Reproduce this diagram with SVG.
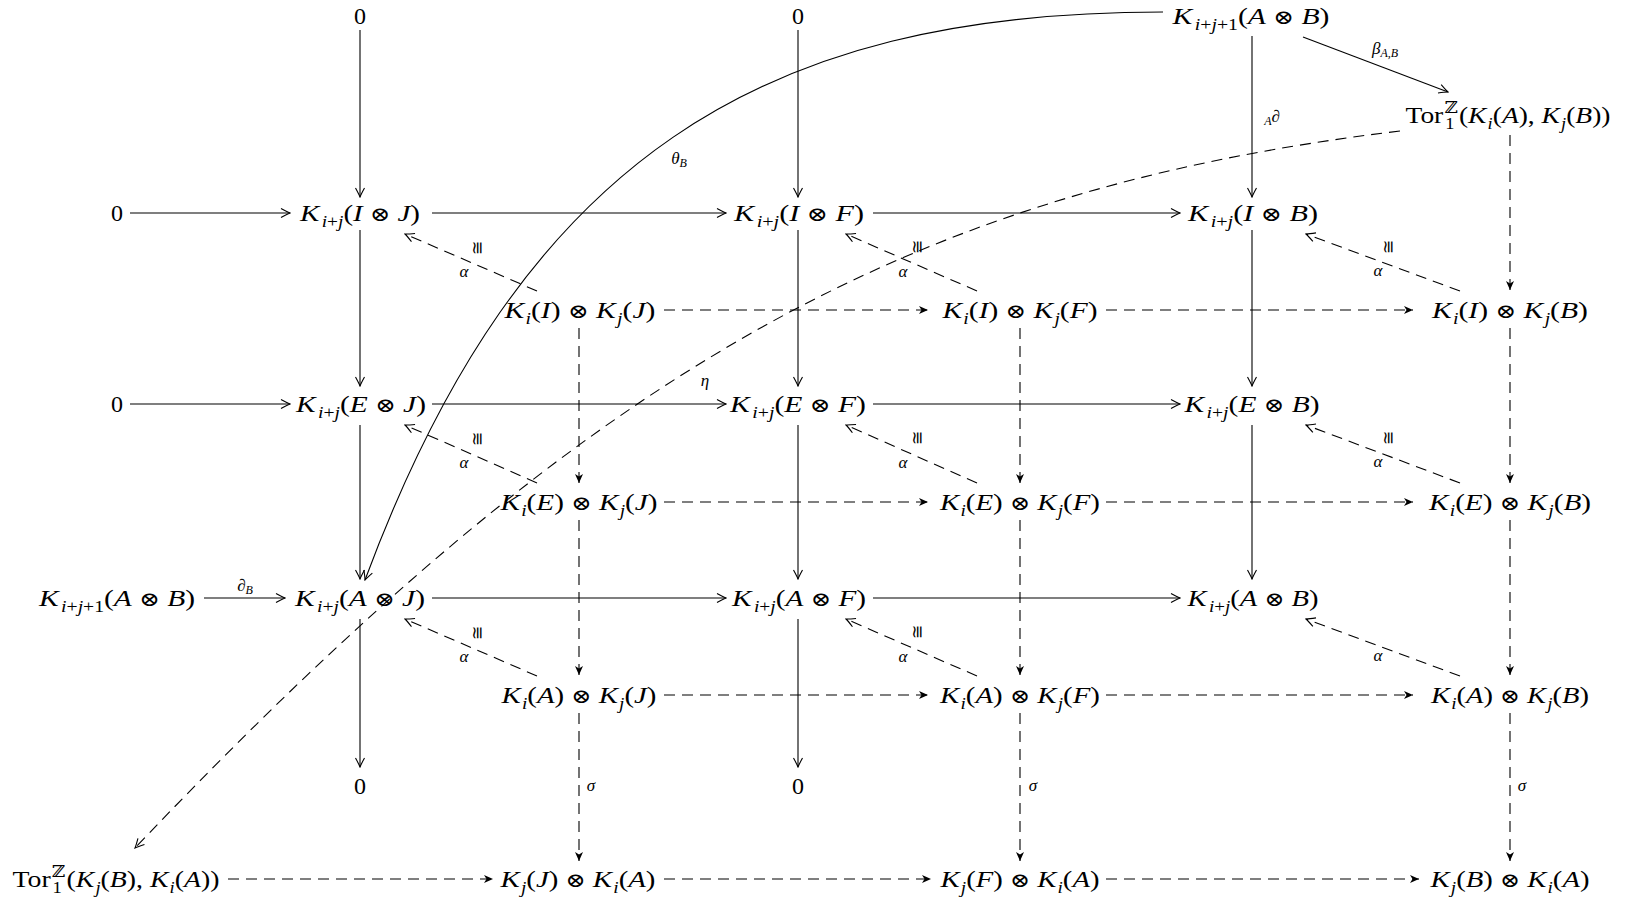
<svg xmlns="http://www.w3.org/2000/svg" width="1626" height="901" viewBox="0 0 1626 901">
<style>
.t{font-family:"Liberation Serif","DejaVu Serif",serif;font-size:24px;text-anchor:middle;fill:#000}
.i{font-style:italic}
.s{font-size:16px}
.o{font-family:"DejaVu Serif",serif;font-size:20px}
.l{font-family:"Liberation Serif","DejaVu Serif",serif;font-size:17px;font-style:italic;text-anchor:middle;fill:#000}
.ls{font-size:12px}
.ar{fill:none;stroke:#000;stroke-width:1.1;marker-end:url(#to)}
.da{fill:none;stroke:#000;stroke-width:1.1;stroke-dasharray:11 7;marker-end:url(#st)}
.dt{fill:none;stroke:#000;stroke-width:1.1;stroke-dasharray:11 7;marker-end:url(#to)}
</style>
<defs>
<marker id="to" markerUnits="userSpaceOnUse" viewBox="-11 -6 12 12" refX="0" refY="0" markerWidth="12" markerHeight="12" orient="auto"><path d="M-9,-4.5 Q-3,-1.2 0,0 Q-3,1.2 -9,4.5" fill="none" stroke="#000" stroke-width="1.1" stroke-dasharray="none"/></marker>
<marker id="st" markerUnits="userSpaceOnUse" viewBox="-11 -6 12 12" refX="0" refY="0" markerWidth="12" markerHeight="12" orient="auto"><path d="M0,0 L-9,-4 L-6.5,0 L-9,4 Z" fill="#000" stroke="none"/></marker>
</defs>

<g id="connectors">
<path class="ar" d="M130,213 H290"/>
<path class="ar" d="M432,213 H726"/>
<path class="ar" d="M873,213 H1180"/>
<path class="ar" d="M130,404 H290"/>
<path class="ar" d="M432,404 H726"/>
<path class="ar" d="M873,404 H1180"/>
<path class="ar" d="M204,598 H285"/>
<path class="ar" d="M432,598 H726"/>
<path class="ar" d="M873,598 H1180"/>
<path class="ar" d="M360,30 V197"/>
<path class="ar" d="M360,230 V386"/>
<path class="ar" d="M360,425 V579"/>
<path class="ar" d="M360,619 V767"/>
<path class="ar" d="M798,30 V197"/>
<path class="ar" d="M798,230 V386"/>
<path class="ar" d="M798,425 V579"/>
<path class="ar" d="M798,619 V767"/>
<path class="ar" d="M1252,36 V197"/>
<path class="ar" d="M1252,230 V386"/>
<path class="ar" d="M1252,425 V579"/>
<path class="ar" d="M1303,37 L1448,92"/>
<path class="ar" d="M1163,12 C763,12 522,157 365,580"/>
<path class="dt" d="M1400,131 C900,191 585,375 135,848"/>
<path class="da" d="M579,328 V483"/>
<path class="da" d="M579,520 V675"/>
<path class="da" d="M579,713 V861"/>
<path class="da" d="M1020,328 V483"/>
<path class="da" d="M1020,520 V675"/>
<path class="da" d="M1020,713 V861"/>
<path class="da" d="M1510,135 V290"/>
<path class="da" d="M1510,328 V483"/>
<path class="da" d="M1510,520 V675"/>
<path class="da" d="M1510,713 V861"/>
<path class="da" d="M664,310 H928"/>
<path class="da" d="M1106,310 H1413"/>
<path class="da" d="M664,502 H928"/>
<path class="da" d="M1106,502 H1413"/>
<path class="da" d="M664,695 H928"/>
<path class="da" d="M1106,695 H1413"/>
<path class="da" d="M228,879 H493"/>
<path class="da" d="M664,879 H931"/>
<path class="da" d="M1106,879 H1419"/>
<path class="dt" d="M537,291 L405,234"/>
<path class="dt" d="M537,483 L405,425"/>
<path class="dt" d="M537,676 L405,619"/>
<path class="dt" d="M977,291 L846,234"/>
<path class="dt" d="M977,483 L846,425"/>
<path class="dt" d="M977,676 L846,619"/>
<path class="dt" d="M1460,291 L1306,234"/>
<path class="dt" d="M1460,483 L1306,425"/>
<path class="dt" d="M1460,676 L1306,619"/>
<text class="l" x="1385" y="54">β<tspan class="ls" dy="3">A,B</tspan></text>
<text class="l" x="1272" y="122"><tspan class="ls" dy="3">A</tspan><tspan dy="-3">∂</tspan></text>
<text class="l" x="679" y="164">θ<tspan class="ls" dy="3">B</tspan></text>
<text class="l" x="705" y="386">η</text>
<text class="l" x="245" y="591">∂<tspan class="ls" dy="3">B</tspan></text>
<text class="l" x="591" y="791">σ</text>
<text class="l" x="1033" y="791">σ</text>
<text class="l" x="1522" y="791">σ</text>
<text class="l" x="464" y="277">α</text>
<text class="l" x="464" y="468">α</text>
<text class="l" x="464" y="662">α</text>
<text class="l" x="903" y="277">α</text>
<text class="l" x="903" y="468">α</text>
<text class="l" x="903" y="662">α</text>
<text class="l" x="1378" y="276">α</text>
<text class="l" x="1378" y="467">α</text>
<text class="l" x="1378" y="661">α</text>
<text class="l" style="font-style:normal" transform="translate(478,248) rotate(-90)" y="5">≅</text>
<text class="l" style="font-style:normal" transform="translate(478,439) rotate(-90)" y="5">≅</text>
<text class="l" style="font-style:normal" transform="translate(478,633) rotate(-90)" y="5">≅</text>
<text class="l" style="font-style:normal" transform="translate(918,247) rotate(-90)" y="5">≅</text>
<text class="l" style="font-style:normal" transform="translate(918,438) rotate(-90)" y="5">≅</text>
<text class="l" style="font-style:normal" transform="translate(918,632) rotate(-90)" y="5">≅</text>
<text class="l" style="font-style:normal" transform="translate(1389,247) rotate(-90)" y="5">≅</text>
<text class="l" style="font-style:normal" transform="translate(1389,438) rotate(-90)" y="5">≅</text>
</g>

<g id="n-zero-top1"><text class="t" x="360" y="24">0</text></g>
<g id="n-zero-top2"><text class="t" x="798" y="24">0</text></g>
<g id="n-KAB-top"><text class="t" x="1251" y="24" textLength="157" lengthAdjust="spacingAndGlyphs"><tspan class="i">K</tspan><tspan class="s" dx="2" dy="6"><tspan class="i">i</tspan>+<tspan class="i">j</tspan>+1</tspan><tspan dy="-6">(<tspan class="i">A</tspan> <tspan class="o">⊗</tspan> <tspan class="i">B</tspan>)</tspan></text></g>
<g id="n-Tor-top"><text class="t" x="1508" y="123" textLength="205" lengthAdjust="spacingAndGlyphs">Tor<tspan class="s" dx="1" dy="-10">ℤ</tspan><tspan class="s" dx="-11" dy="16">1</tspan><tspan dx="4" dy="-6">(<tspan class="i">K</tspan><tspan class="s i" dx="1" dy="6">i</tspan><tspan dy="-6">(<tspan class="i">A</tspan>), <tspan class="i">K</tspan></tspan><tspan class="s i" dx="1" dy="6">j</tspan><tspan dy="-6">(<tspan class="i">B</tspan>))</tspan></tspan></text></g>

<g id="n-zero-I"><text class="t" x="117" y="221">0</text></g>
<g id="n-KIJ"><text class="t" x="360" y="221" textLength="120" lengthAdjust="spacingAndGlyphs"><tspan class="i">K</tspan><tspan class="s" dx="2" dy="6"><tspan class="i">i</tspan>+<tspan class="i">j</tspan></tspan><tspan dy="-6">(<tspan class="i">I</tspan> <tspan class="o">⊗</tspan> <tspan class="i">J</tspan>)</tspan></text></g>
<g id="n-KIF"><text class="t" x="799" y="221" textLength="130" lengthAdjust="spacingAndGlyphs"><tspan class="i">K</tspan><tspan class="s" dx="2" dy="6"><tspan class="i">i</tspan>+<tspan class="i">j</tspan></tspan><tspan dy="-6">(<tspan class="i">I</tspan> <tspan class="o">⊗</tspan> <tspan class="i">F</tspan>)</tspan></text></g>
<g id="n-KIB"><text class="t" x="1253" y="221" textLength="130" lengthAdjust="spacingAndGlyphs"><tspan class="i">K</tspan><tspan class="s" dx="2" dy="6"><tspan class="i">i</tspan>+<tspan class="i">j</tspan></tspan><tspan dy="-6">(<tspan class="i">I</tspan> <tspan class="o">⊗</tspan> <tspan class="i">B</tspan>)</tspan></text></g>

<g id="n-KiI-KjJ"><text class="t" x="580" y="318" textLength="151" lengthAdjust="spacingAndGlyphs"><tspan class="i">K</tspan><tspan class="s i" dx="1" dy="6">i</tspan><tspan dy="-6">(<tspan class="i">I</tspan>) <tspan class="o">⊗</tspan> <tspan class="i">K</tspan></tspan><tspan class="s i" dx="1" dy="6">j</tspan><tspan dy="-6">(<tspan class="i">J</tspan>)</tspan></text></g>
<g id="n-KiI-KjF"><text class="t" x="1020" y="318" textLength="155" lengthAdjust="spacingAndGlyphs"><tspan class="i">K</tspan><tspan class="s i" dx="1" dy="6">i</tspan><tspan dy="-6">(<tspan class="i">I</tspan>) <tspan class="o">⊗</tspan> <tspan class="i">K</tspan></tspan><tspan class="s i" dx="1" dy="6">j</tspan><tspan dy="-6">(<tspan class="i">F</tspan>)</tspan></text></g>
<g id="n-KiI-KjB"><text class="t" x="1510" y="318" textLength="156" lengthAdjust="spacingAndGlyphs"><tspan class="i">K</tspan><tspan class="s i" dx="1" dy="6">i</tspan><tspan dy="-6">(<tspan class="i">I</tspan>) <tspan class="o">⊗</tspan> <tspan class="i">K</tspan></tspan><tspan class="s i" dx="1" dy="6">j</tspan><tspan dy="-6">(<tspan class="i">B</tspan>)</tspan></text></g>

<g id="n-zero-E"><text class="t" x="117" y="412">0</text></g>
<g id="n-KEJ"><text class="t" x="361" y="412" textLength="130" lengthAdjust="spacingAndGlyphs"><tspan class="i">K</tspan><tspan class="s" dx="2" dy="6"><tspan class="i">i</tspan>+<tspan class="i">j</tspan></tspan><tspan dy="-6">(<tspan class="i">E</tspan> <tspan class="o">⊗</tspan> <tspan class="i">J</tspan>)</tspan></text></g>
<g id="n-KEF"><text class="t" x="798" y="412" textLength="136" lengthAdjust="spacingAndGlyphs"><tspan class="i">K</tspan><tspan class="s" dx="2" dy="6"><tspan class="i">i</tspan>+<tspan class="i">j</tspan></tspan><tspan dy="-6">(<tspan class="i">E</tspan> <tspan class="o">⊗</tspan> <tspan class="i">F</tspan>)</tspan></text></g>
<g id="n-KEB"><text class="t" x="1252" y="412" textLength="135" lengthAdjust="spacingAndGlyphs"><tspan class="i">K</tspan><tspan class="s" dx="2" dy="6"><tspan class="i">i</tspan>+<tspan class="i">j</tspan></tspan><tspan dy="-6">(<tspan class="i">E</tspan> <tspan class="o">⊗</tspan> <tspan class="i">B</tspan>)</tspan></text></g>

<g id="n-KiE-KjJ"><text class="t" x="579" y="510" textLength="157" lengthAdjust="spacingAndGlyphs"><tspan class="i">K</tspan><tspan class="s i" dx="1" dy="6">i</tspan><tspan dy="-6">(<tspan class="i">E</tspan>) <tspan class="o">⊗</tspan> <tspan class="i">K</tspan></tspan><tspan class="s i" dx="1" dy="6">j</tspan><tspan dy="-6">(<tspan class="i">J</tspan>)</tspan></text></g>
<g id="n-KiE-KjF"><text class="t" x="1020" y="510" textLength="160" lengthAdjust="spacingAndGlyphs"><tspan class="i">K</tspan><tspan class="s i" dx="1" dy="6">i</tspan><tspan dy="-6">(<tspan class="i">E</tspan>) <tspan class="o">⊗</tspan> <tspan class="i">K</tspan></tspan><tspan class="s i" dx="1" dy="6">j</tspan><tspan dy="-6">(<tspan class="i">F</tspan>)</tspan></text></g>
<g id="n-KiE-KjB"><text class="t" x="1510" y="510" textLength="162" lengthAdjust="spacingAndGlyphs"><tspan class="i">K</tspan><tspan class="s i" dx="1" dy="6">i</tspan><tspan dy="-6">(<tspan class="i">E</tspan>) <tspan class="o">⊗</tspan> <tspan class="i">K</tspan></tspan><tspan class="s i" dx="1" dy="6">j</tspan><tspan dy="-6">(<tspan class="i">B</tspan>)</tspan></text></g>

<g id="n-KAB-left"><text class="t" x="117" y="606" textLength="156" lengthAdjust="spacingAndGlyphs"><tspan class="i">K</tspan><tspan class="s" dx="2" dy="6"><tspan class="i">i</tspan>+<tspan class="i">j</tspan>+1</tspan><tspan dy="-6">(<tspan class="i">A</tspan> <tspan class="o">⊗</tspan> <tspan class="i">B</tspan>)</tspan></text></g>
<g id="n-KAJ"><text class="t" x="360" y="606" textLength="130" lengthAdjust="spacingAndGlyphs"><tspan class="i">K</tspan><tspan class="s" dx="2" dy="6"><tspan class="i">i</tspan>+<tspan class="i">j</tspan></tspan><tspan dy="-6">(<tspan class="i">A</tspan> <tspan class="o">⊗</tspan> <tspan class="i">J</tspan>)</tspan></text></g>
<g id="n-KAF"><text class="t" x="799" y="606" textLength="134" lengthAdjust="spacingAndGlyphs"><tspan class="i">K</tspan><tspan class="s" dx="2" dy="6"><tspan class="i">i</tspan>+<tspan class="i">j</tspan></tspan><tspan dy="-6">(<tspan class="i">A</tspan> <tspan class="o">⊗</tspan> <tspan class="i">F</tspan>)</tspan></text></g>
<g id="n-KAB"><text class="t" x="1253" y="606" textLength="131" lengthAdjust="spacingAndGlyphs"><tspan class="i">K</tspan><tspan class="s" dx="2" dy="6"><tspan class="i">i</tspan>+<tspan class="i">j</tspan></tspan><tspan dy="-6">(<tspan class="i">A</tspan> <tspan class="o">⊗</tspan> <tspan class="i">B</tspan>)</tspan></text></g>

<g id="n-KiA-KjJ"><text class="t" x="579" y="703" textLength="155" lengthAdjust="spacingAndGlyphs"><tspan class="i">K</tspan><tspan class="s i" dx="1" dy="6">i</tspan><tspan dy="-6">(<tspan class="i">A</tspan>) <tspan class="o">⊗</tspan> <tspan class="i">K</tspan></tspan><tspan class="s i" dx="1" dy="6">j</tspan><tspan dy="-6">(<tspan class="i">J</tspan>)</tspan></text></g>
<g id="n-KiA-KjF"><text class="t" x="1020" y="703" textLength="160" lengthAdjust="spacingAndGlyphs"><tspan class="i">K</tspan><tspan class="s i" dx="1" dy="6">i</tspan><tspan dy="-6">(<tspan class="i">A</tspan>) <tspan class="o">⊗</tspan> <tspan class="i">K</tspan></tspan><tspan class="s i" dx="1" dy="6">j</tspan><tspan dy="-6">(<tspan class="i">F</tspan>)</tspan></text></g>
<g id="n-KiA-KjB"><text class="t" x="1510" y="703" textLength="158" lengthAdjust="spacingAndGlyphs"><tspan class="i">K</tspan><tspan class="s i" dx="1" dy="6">i</tspan><tspan dy="-6">(<tspan class="i">A</tspan>) <tspan class="o">⊗</tspan> <tspan class="i">K</tspan></tspan><tspan class="s i" dx="1" dy="6">j</tspan><tspan dy="-6">(<tspan class="i">B</tspan>)</tspan></text></g>

<g id="n-zero-b1"><text class="t" x="360" y="794">0</text></g>
<g id="n-zero-b2"><text class="t" x="798" y="794">0</text></g>

<g id="n-Tor-bot"><text class="t" x="116" y="887" textLength="207" lengthAdjust="spacingAndGlyphs">Tor<tspan class="s" dx="1" dy="-10">ℤ</tspan><tspan class="s" dx="-11" dy="16">1</tspan><tspan dx="4" dy="-6">(<tspan class="i">K</tspan><tspan class="s i" dx="1" dy="6">j</tspan><tspan dy="-6">(<tspan class="i">B</tspan>), <tspan class="i">K</tspan></tspan><tspan class="s i" dx="1" dy="6">i</tspan><tspan dy="-6">(<tspan class="i">A</tspan>))</tspan></tspan></text></g>
<g id="n-KjJ-KiA"><text class="t" x="578" y="887" textLength="155" lengthAdjust="spacingAndGlyphs"><tspan class="i">K</tspan><tspan class="s i" dx="1" dy="6">j</tspan><tspan dy="-6">(<tspan class="i">J</tspan>) <tspan class="o">⊗</tspan> <tspan class="i">K</tspan></tspan><tspan class="s i" dx="1" dy="6">i</tspan><tspan dy="-6">(<tspan class="i">A</tspan>)</tspan></text></g>
<g id="n-KjF-KiA"><text class="t" x="1020" y="887" textLength="159" lengthAdjust="spacingAndGlyphs"><tspan class="i">K</tspan><tspan class="s i" dx="1" dy="6">j</tspan><tspan dy="-6">(<tspan class="i">F</tspan>) <tspan class="o">⊗</tspan> <tspan class="i">K</tspan></tspan><tspan class="s i" dx="1" dy="6">i</tspan><tspan dy="-6">(<tspan class="i">A</tspan>)</tspan></text></g>
<g id="n-KjB-KiA"><text class="t" x="1510" y="887" textLength="159" lengthAdjust="spacingAndGlyphs"><tspan class="i">K</tspan><tspan class="s i" dx="1" dy="6">j</tspan><tspan dy="-6">(<tspan class="i">B</tspan>) <tspan class="o">⊗</tspan> <tspan class="i">K</tspan></tspan><tspan class="s i" dx="1" dy="6">i</tspan><tspan dy="-6">(<tspan class="i">A</tspan>)</tspan></text></g>
</svg>
